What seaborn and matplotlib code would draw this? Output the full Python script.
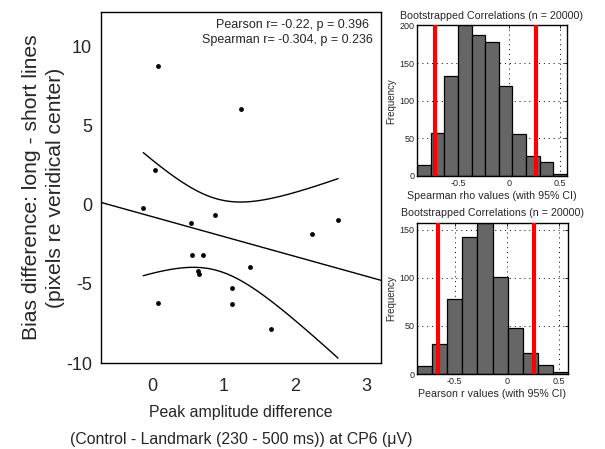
import numpy as np
import matplotlib
matplotlib.use("Agg")
import matplotlib.pyplot as plt
import seaborn as sns

# ---------------- data ----------------
amp_diff = [0.08, 1.25, 0.05, -0.12, 0.885, 0.54, 0.555, 0.72, 0.64, 0.66,
            1.37, 1.12, 1.12, 0.09, 1.66, 2.235, 2.60]
bias_diff = [8.76, 6.08, 2.20, -0.20, -0.65, -1.13, -3.16, -3.16, -4.19, -4.36,
             -3.95, -5.24, -6.25, -6.18, -7.82, -1.84, -0.93]
main_xticks = [0, 1, 2, 3]
main_yticks = [-10, -5, 0, 5, 10]
stats_lines = ["Pearson r= -0.22, p = 0.396", "Spearman r= -0.304, p = 0.236"]

rho_edges = [-0.903, -0.769, -0.635, -0.501, -0.367, -0.233, -0.099,
             0.035, 0.169, 0.303, 0.437, 0.571]
rho_counts = [15, 57, 133, 200, 188, 178, 120, 56, 26, 18, 3]
rho_ci = [-0.731, 0.263]

r_edges = [-0.860, -0.715, -0.571, -0.426, -0.282, -0.137, 0.008,
           0.152, 0.297, 0.441, 0.586]
r_counts = [8, 31, 78, 142, 157, 101, 48, 22, 9, 2]
r_ci = [-0.659, 0.261]

hist_xticks = [-0.5, 0, 0.5]
rho_yticks = [0, 50, 100, 150, 200]
r_yticks = [0, 50, 100, 150]

T_CRIT = 2.131  # t(0.975, df=15)

# ---------------- style ----------------
sns.set_style("white")
plt.rcParams["font.family"] = ["Liberation Sans", "DejaVu Sans"]
plt.rcParams["axes.unicode_minus"] = False

fig = plt.figure(figsize=(6.05, 4.49), dpi=100)
W, H = 605.0, 449.0


def px_axes(l, t, r, b):
    return fig.add_axes([l / W, 1 - b / H, (r - l) / W, (b - t) / H])


# ---------------- main scatter ----------------
ax = px_axes(101, 12, 381, 363)
x = np.asarray(amp_diff)
y = np.asarray(bias_diff)
xlim = (-0.71, 3.2)
ylim = (-10, 12.2)
ax.set_xlim(*xlim)
ax.set_ylim(*ylim)

sns.scatterplot(x=x, y=y, color="black", s=12, edgecolor="black",
                linewidth=0, ax=ax, zorder=3)

slope, intercept = np.polyfit(x, y, 1)
xs = np.linspace(xlim[0], xlim[1], 100)
sns.lineplot(x=xs, y=intercept + slope * xs, color="black", lw=1.0, ax=ax)

n = len(x)
xm = x.mean()
sxx = ((x - xm) ** 2).sum()
resid = y - (intercept + slope * x)
s = np.sqrt((resid ** 2).sum() / (n - 2))
xc = np.linspace(x.min(), x.max(), 100)
yc = intercept + slope * xc
half = T_CRIT * s * np.sqrt(1.0 / n + (xc - xm) ** 2 / sxx)
sns.lineplot(x=xc, y=yc + half, color="black", lw=1.0, ax=ax)
sns.lineplot(x=xc, y=yc - half, color="black", lw=1.0, ax=ax)

ax.set_xticks(main_xticks)
ax.set_yticks(main_yticks)
ax.set_xticklabels([str(v) for v in main_xticks])
ax.set_yticklabels([str(v) for v in main_yticks])
ax.tick_params(direction="out", length=3.5, width=1, labelsize=13,
               color="black", pad=3)
ax.tick_params(axis="x", pad=7.5)
for sp in ax.spines.values():
    sp.set_color("black")
    sp.set_linewidth(1.0)

ax.text((292 - 101) / 280.0, (363 - 25) / 351.0, stats_lines[0],
        transform=ax.transAxes, ha="center", va="center", fontsize=9)
ax.text((287 - 101) / 280.0, (363 - 40) / 351.0, stats_lines[1],
        transform=ax.transAxes, ha="center", va="center", fontsize=9)

ax.set_xlabel("Peak amplitude difference\n(Control - Landmark (230 - 500 ms)) at CP6 (\u03bcV)",
              fontsize=11.4, linespacing=1.95)
ax.xaxis.set_label_coords(0.5, -0.12)
ax.set_ylabel("Bias difference: long - short lines\n(pixels re veridical center)",
              fontsize=15.2, linespacing=1.3)
ax.yaxis.set_label_coords((65 - 101) / 280.0, 0.5)


# ---------------- histograms ----------------
def boot_hist(axh, edges, counts, ci, yticks, ymax, xlabel):
    centers = [(a + b) / 2 for a, b in zip(edges[:-1], edges[1:])]
    axh.set_axisbelow(True)
    sns.histplot(x=centers, weights=list(counts), bins=list(edges),
                 color="#666666", edgecolor="black", linewidth=0.9,
                 alpha=1.0, ax=axh)
    for c in ci:
        axh.axvline(c, color="#ff0000", lw=3.0, zorder=4)
    axh.set_xlim(edges[0], edges[-1])
    axh.set_ylim(0, ymax)
    axh.set_xticks(hist_xticks)
    axh.set_xticklabels(["-0.5", "0", "0.5"])
    axh.set_yticks(yticks)
    axh.set_yticklabels([str(v) for v in yticks])
    axh.grid(True, color="black", linestyle=(0, (1, 4)), linewidth=0.7)
    axh.tick_params(direction="in", length=2.5, width=0.7, labelsize=6.5,
                    top=True, right=True, pad=2)
    for sp in axh.spines.values():
        sp.set_color("black")
        sp.set_linewidth(1.0)
    axh.set_title("Bootstrapped Correlations (n = 20000)", fontsize=7.7, pad=5)
    axh.set_xlabel(xlabel, fontsize=7.7, labelpad=2.5)
    axh.set_ylabel("Frequency", fontsize=7, labelpad=2)


ax1 = px_axes(417, 25.5, 567, 176)
boot_hist(ax1, rho_edges, rho_counts, rho_ci, rho_yticks, 200,
          "Spearman rho values (with 95% CI)")

ax2 = px_axes(417, 223, 568, 374)
boot_hist(ax2, r_edges, r_counts, r_ci, r_yticks, 157,
          "Pearson r values (with 95% CI)")

fig.savefig("out.png", dpi=100)
